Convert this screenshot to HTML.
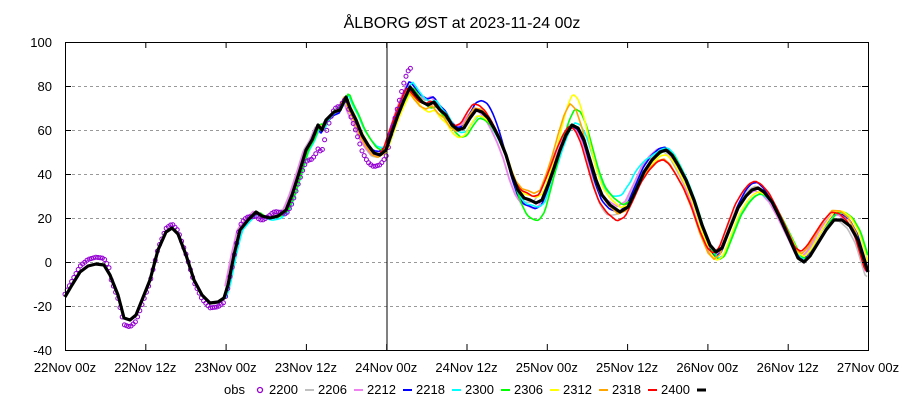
<!DOCTYPE html>
<html><head><meta charset="utf-8"><style>
body{margin:0;background:#fff}
svg{display:block;font-family:"Liberation Sans",sans-serif}
</style></head><body>
<svg id="s" width="900" height="400" xmlns="http://www.w3.org/2000/svg">
<rect width="900" height="400" fill="#fff"/>
<text x="462" y="28" font-size="16" text-anchor="middle">ÅLBORG ØST at 2023-11-24 00z</text>
<g id="grid" stroke="#999" stroke-dasharray="3,3" stroke-width="1"></g>
<g id="series" fill="none" stroke-linejoin="round"></g>
<line x1="387" y1="42" x2="387" y2="350" stroke="#000"/>
<rect x="65.5" y="42.5" width="803" height="308" fill="none" stroke="#000"/>
<g id="ticks" stroke="#000"></g>
<g id="labels" font-size="13"></g>
<g id="legend" font-size="13"></g>
</svg>
<script>
const NS="http://www.w3.org/2000/svg";
function el(p,t,a,txt){const e=document.createElementNS(NS,t);for(const k in a)e.setAttribute(k,a[k]);if(txt!==undefined)e.textContent=txt;document.getElementById(p).appendChild(e);return e;}
for(let v=-40;v<=100;v+=20){const y=262-v*2.2;
 if(v>-40&&v<100) el("grid","line",{x1:66,x2:868,y1:y+.5,y2:y+.5});
 el("labels","text",{x:52,y:y+5,"text-anchor":"end"},v);
 el("ticks","line",{x1:65,x2:71,y1:y+.5,y2:y+.5});el("ticks","line",{x1:862,x2:868,y1:y+.5,y2:y+.5});}
const xl=["22Nov 00z","22Nov 12z","23Nov 00z","23Nov 12z","24Nov 00z","24Nov 12z","25Nov 00z","25Nov 12z","26Nov 00z","26Nov 12z","27Nov 00z"];
for(let i=0;i<=10;i++){const x=65+i*80.3;
 el("labels","text",{x:x,y:372,"text-anchor":"middle"},xl[i]);
 el("ticks","line",{x1:x+.5,x2:x+.5,y1:350,y2:344});el("ticks","line",{x1:x+.5,x2:x+.5,y1:42,y2:48});}
const B=[[65,297],[72,285],[80,272],[88,266],[96,264],[104,265],[110,275],[118,295],[124,318],[130,320],[136,315],[142,300],[150,280],[158,250],[166,232],[172,228],[178,234],[186,255],[194,280],[202,295],[210,303],[218,302],[224,298],[228,285],[234,255],[240,230],[248,220],[256,212],[262,216],[270,218],[278,216],[286,210],[292,195],[300,170],[306,150],[312,140],[318,125],[322,130],[326,120],[334,112],[340,110],[346,97],[350,108],[356,120],[362,135],[368,145],[374,153],[380,155],[386,150],[392,132],[398,115],[404,100],[410,87],[416,95],[422,102],[428,105],[434,102],[440,110],[446,115],[452,125],[458,130],[464,128],[470,118],[476,110],[482,112],[488,118],[494,128],[500,140],[506,155],[512,175],[518,190],[524,198],[530,200],[536,203],[542,200],[548,185],[554,168],[560,150],[566,135],[572,125],[578,128],[584,140],[590,160],[596,180],[602,195],[610,205],[620,212],[628,207],[636,190],[644,172],[652,160],[660,152],[666,150],[672,155],[678,165],[686,180],[694,200],[702,225],[710,245],[716,252],[722,248],[730,228],[738,208],[746,196],[752,190],[758,188],[764,192],[772,202],[780,218],[790,240],[798,258],[804,262],[810,256],[818,243],[826,230],[834,220],[842,220],[850,226],[858,240],[868,272]];
function by(x){for(let i=1;i<B.length;i++)if(x<=B[i][0]){const a=B[i-1],b=B[i];return a[1]+(b[1]-a[1])*(x-a[0])/(b[0]-a[0]);}return B[B.length-1][1];}
function bump(x,c,w,h){return h*Math.exp(-((x-c)*(x-c))/(2*w*w));}
const cols=[["#c0c0c0",225,1],["#ee82ee",225,2],["#0000ff",225,3],["#00ffff",225,4],["#00ff00",260,5],["#ffff00",300,6],["#ffa500",340,7],["#ff0000",380,8]];
cols.forEach(([c,x0,k])=>{let d="";for(let x=x0;x<=868;x+=2){
 const amp=Math.min(1,(x-x0)/150)*(4+k*0.8);
 let y=by(x+Math.sin(k)*3)+amp*Math.sin(x/(25+k*3)+k*1.7);
 if(k==5) y+=bump(x,535,12,18)-bump(x,575,12,10);
 if(k==6) y-=bump(x,573,10,22);
 if(k==7) y-=bump(x,570,10,14);
 if(k==3){y-=bump(x,490,12,18);y-=bump(x,605,15,-10)+bump(x,750,15,12);}
 if(k==4) y-=bump(x,633,10,18);
 if(k==1) y+=bump(x,605,10,15)-bump(x,545,10,12);
 d+=(d?"L":"M")+x+","+y.toFixed(1);}
 el("series","path",{d:d,stroke:c,"stroke-width":1.6});});
for(let x=65;x<=412;x+=2.2){let y;
 if(x<230){y=262+(by(x)-262)*1.12-(x<110?7:0);}
 else{y=by(x)+Math.sin(x/5)*5+bump(x,315,12,22)+bump(x,368,8,22)-bump(x,330,6,6);}
 if(x>390)y=by(x)-bump(x,408,8,20)+ (x>410?0:0);
 el("series","circle",{cx:x,cy:y.toFixed(1),r:2,stroke:"#9400d3","stroke-width":1});}
el("series","path",{d:"M"+B.map(p=>p.join(",")).join("L"),stroke:"#000","stroke-width":3.2});
el("legend","text",{x:245,y:394,"text-anchor":"end"},"obs");
el("legend","circle",{cx:260,cy:390,r:2.5,fill:"none",stroke:"#9400d3","stroke-width":1.3});
const L=["2200","2206","2212","2218","2300","2306","2312","2318","2400"];
const lc=["#c0c0c0","#ee82ee","#0000ff","#00ffff","#00ff00","#ffff00","#ffa500","#ff0000","#000000"];
L.forEach((t,i)=>{el("legend","text",{x:269+i*49,y:394},t);
 el("legend","line",{x1:305+i*49,x2:314+i*49,y1:390,y2:390,stroke:lc[i],"stroke-width":i==8?3:2});});
</script>
</body></html>
